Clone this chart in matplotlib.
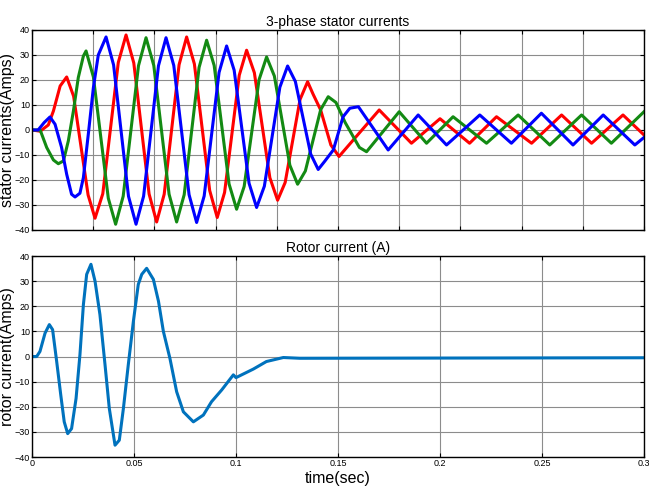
import matplotlib
matplotlib.use("Agg")
import matplotlib.pyplot as plt

# stator phase currents (time in s, current in A)
red_t = [0, 0.004, 0.008, 0.0105, 0.0138, 0.017, 0.0204, 0.0275, 0.0309, 0.0347,
         0.0423, 0.0461, 0.0499, 0.0574, 0.0611, 0.0648, 0.0721, 0.0758, 0.0796,
         0.0871, 0.0908, 0.0944, 0.1016, 0.1052, 0.109, 0.1166, 0.1204, 0.1241,
         0.1314, 0.1351, 0.1378, 0.1415, 0.1465, 0.1505, 0.1702, 0.186, 0.200,
         0.2145, 0.2277, 0.2449, 0.2596, 0.2743, 0.2897, 0.3]
red_i = [0, -0.5, 2, 7.6, 17.6, 21.2, 13.5, -26, -35.3, -25.5,
         27, 38, 26.8, -25.6, -36.8, -25.7, 26.1, 37.2, 26.4,
         -24.2, -35, -25, 21.9, 31.9, 22.9, -19.1, -28.1, -21,
         12.2, 19.3, 14.3, 8, -6, -10.6, 8, -5.3, 4.5,
         -5.3, 5.3, -5.3, 6, -5.3, 6, -2]

green_t = [0, 0.004, 0.0072, 0.0105, 0.0129, 0.0154, 0.0178, 0.0203, 0.0227, 0.0252,
           0.0265, 0.0301, 0.0374, 0.041, 0.0447, 0.0522, 0.0559, 0.0597, 0.0672,
           0.0709, 0.0746, 0.0819, 0.0856, 0.0893, 0.0966, 0.1003, 0.104, 0.1113,
           0.115, 0.1188, 0.1264, 0.1302, 0.134, 0.1415, 0.1452, 0.149, 0.1535,
           0.1605, 0.164, 0.180, 0.1934, 0.2064, 0.2228, 0.2383, 0.2538, 0.2694,
           0.284, 0.3]
green_i = [0, 0, -7, -12, -13.5, -12.4, -4.4, 7.6, 21, 29.6,
           31.6, 21.2, -27.3, -37.7, -26.5, 25.7, 36.9, 25.8, -25.7,
           -36.8, -25.9, 25, 35.9, 25.8, -21.6, -31.7, -22.6, 20.1,
           29.2, 21.6, -14.1, -21.7, -16.4, 8.1, 13.3, 11, 3,
           -7, -8.7, 7.3, -5.3, 5.3, -5.3, 6, -6, 6,
           -5.3, 7.3]

blue_t = [0, 0.003, 0.006, 0.0088, 0.0113, 0.0145, 0.017, 0.0194, 0.0211, 0.0235,
          0.0252, 0.0276, 0.0301, 0.0325, 0.0363, 0.04, 0.0473, 0.051, 0.0547,
          0.062, 0.0657, 0.0695, 0.077, 0.0807, 0.0844, 0.0917, 0.0954, 0.0991,
          0.1064, 0.1101, 0.1139, 0.1215, 0.1253, 0.1291, 0.1366, 0.1403, 0.1436,
          0.1477, 0.1525, 0.1558, 0.160, 0.1746, 0.1893, 0.2032, 0.2195, 0.235,
          0.2497, 0.2652, 0.280, 0.2955, 0.3]
blue_i = [0, 0, 3, 5.2, 2.3, -7, -17.7, -25.7, -26.8, -25.3,
          -19, -1.7, 17, 30, 37.2, 26, -26.5, -37.7, -26.5,
          25.7, 36.9, 25.8, -25.9, -37, -26.4, 23, 33.6, 23.9,
          -21.3, -31, -22.5, 17.1, 25.6, 19.4, -9.6, -15.8, -12.4,
          -8, 5.3, 8.7, 9.3, -8, 6, -6, 6, -5.3,
          6.7, -6, 6, -6, -3]

# rotor current
rotor_t = [0, 0.0023, 0.0039, 0.0064, 0.0085, 0.0101, 0.0121, 0.0141, 0.0158, 0.0175,
           0.0194, 0.0216, 0.0235, 0.0252, 0.0268, 0.0289, 0.0309, 0.0333, 0.0358,
           0.0379, 0.0407, 0.0428, 0.0448, 0.0472, 0.0497, 0.0521, 0.0538, 0.0562,
           0.0595, 0.062, 0.0644, 0.0676, 0.0709, 0.0742, 0.0791, 0.084, 0.088,
           0.093, 0.0987, 0.1, 0.1085, 0.1149, 0.1232, 0.1313, 0.3]
rotor_i = [0, 0, 2, 9.3, 12.7, 10.7, -2, -15.3, -26, -30.7,
           -28.7, -16.7, 0.7, 20.7, 32.7, 36.7, 30, 16.7, -3.3,
           -20.7, -35.3, -33.3, -20.7, -3.3, 14, 28.7, 32.7, 35.1,
           30.7, 22, 10, -0.7, -14, -22, -26, -23.3, -18,
           -13.3, -7.3, -8.4, -5, -2, -0.4, -0.7, -0.5]

yticks = [-40, -30, -20, -10, 0, 10, 20, 30, 40]
tick_font = ['Liberation Sans Narrow', 'Liberation Sans', 'DejaVu Sans']
label_font = ['Liberation Sans', 'DejaVu Sans']


def style_axes(ax, xticks):
    ax.set_xlim(0, 0.3)
    ax.set_ylim(-40, 40)
    ax.set_yticks(yticks)
    ax.set_xticks(xticks)
    ax.grid(True, color='0.55', linewidth=0.8)
    ax.tick_params(direction='in', top=True, right=True, length=3, width=0.8,
                   labelsize=6.5, pad=1.5)
    for lab in ax.get_xticklabels() + ax.get_yticklabels():
        lab.set_family(tick_font)
    for sp in ax.spines.values():
        sp.set_linewidth(1.0)


fig = plt.figure(figsize=(6.49, 4.93), dpi=100, facecolor='white')

ax1 = fig.add_axes([0.0493, 0.5335, 0.943, 0.4057])
ax1.plot(red_t, red_i, color='#ff0000', linewidth=2.2)
ax1.plot(green_t, green_i, color='#138a13', linewidth=2.2)
ax1.plot(blue_t, blue_i, color='#0000ff', linewidth=2.2)
style_axes(ax1, [0.03 * k for k in range(11)])
ax1.set_xticklabels([])
ax1.set_title('3-phase stator currents', fontsize=10, family=label_font, pad=3)
ax1.set_ylabel('stator currents(Amps)', fontsize=11.5, family=label_font)
ax1.yaxis.set_label_coords(-0.027, 0.5)

ax2 = fig.add_axes([0.0493, 0.0730, 0.943, 0.4077])
ax2.plot(rotor_t, rotor_i, color='#0072bd', linewidth=2.2)
style_axes(ax2, [0, 0.05, 0.1, 0.15, 0.2, 0.25, 0.3])
ax2.set_xticklabels(['0', '0.05', '0.1', '0.15', '0.2', '0.25', '0.3'])
for lab in ax2.get_xticklabels():
    lab.set_family(tick_font)
ax2.set_title('Rotor current (A)', fontsize=10, family=label_font, pad=3)
ax2.set_ylabel('rotor current(Amps)', fontsize=11.5, family=label_font)
ax2.yaxis.set_label_coords(-0.027, 0.5)
ax2.set_xlabel('time(sec)', fontsize=11.5, family=label_font, labelpad=2)

fig.savefig('out.png', dpi=100, facecolor='white')
